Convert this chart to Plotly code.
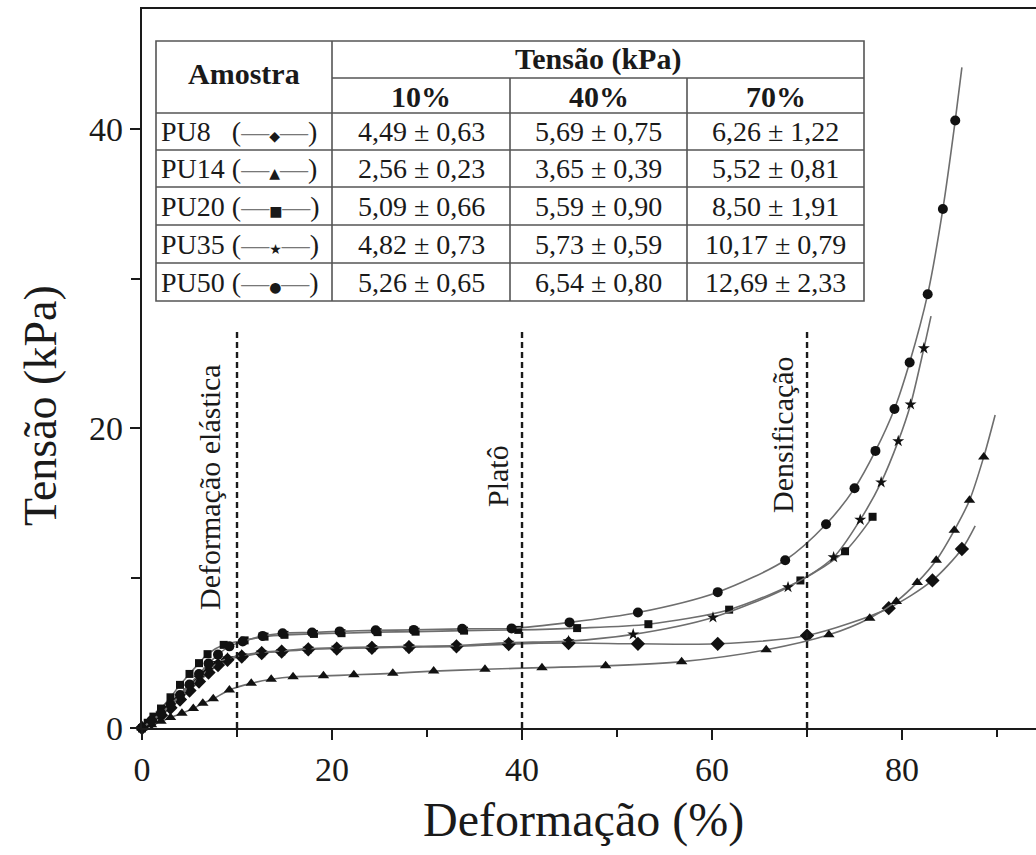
import plotly.graph_objects as go

# ---------------- data ----------------
pu8_x = [0, 1.0, 2.0, 3.0, 4.0, 5.0, 6.0, 7.0, 8.0, 9.0, 10.5, 12.6, 14.7, 17.5, 20.5, 24.2, 28.1, 33.1, 38.6, 44.9, 52.2, 60.6, 70.0, 78.6, 83.2, 86.3]
pu8_y = [0, 0.4, 0.85, 1.35, 1.9, 2.5, 3.1, 3.7, 4.2, 4.55, 4.77, 5.0, 5.1, 5.25, 5.3, 5.35, 5.4, 5.45, 5.6, 5.67, 5.62, 5.62, 6.17, 8.0, 9.85, 11.95]
pu8_end = (87.7, 13.5)

pu14_x = [0, 1.0, 2.0, 3.0, 4.2, 5.4, 6.4, 7.5, 9.2, 11.5, 13.6, 15.9, 19.1, 22.3, 26.4, 30.7, 36.1, 42.1, 48.8, 56.8, 65.7, 72.3, 76.6, 79.4, 81.6, 83.6, 85.5, 87.1, 88.6]
pu14_y = [0, 0.22, 0.45, 0.7, 0.98, 1.3, 1.65, 1.95, 2.54, 2.98, 3.25, 3.42, 3.48, 3.55, 3.65, 3.8, 3.92, 4.03, 4.15, 4.43, 5.22, 6.22, 7.33, 8.45, 9.72, 11.2, 13.2, 15.2, 18.1]
pu14_end = (89.8, 20.9)

pu20_x = [0, 0.6, 1.2, 2.0, 3.0, 4.0, 5.0, 6.0, 6.9, 8.6, 10.8, 12.9, 15.0, 18.1, 21.0, 24.8, 28.8, 33.9, 39.6, 45.8, 53.3, 61.8, 69.3, 74.0, 76.9]
pu20_y = [0, 0.35, 0.76, 1.3, 2.05, 2.88, 3.61, 4.33, 4.93, 5.55, 5.85, 6.1, 6.22, 6.28, 6.33, 6.4, 6.43, 6.5, 6.55, 6.67, 6.93, 7.9, 9.85, 11.8, 14.1]
pu20_end = (77.0, 14.2)

pu35_x = [0, 1.0, 2.0, 3.0, 4.0, 5.0, 6.0, 7.0, 8.0, 9.0, 10.5, 12.6, 14.7, 17.5, 20.5, 24.2, 28.1, 33.1, 38.6, 44.9, 51.7, 60.1, 68.0, 72.8, 75.6, 77.8, 79.6, 80.9, 82.3]
pu35_y = [0, 0.45, 0.95, 1.5, 2.1, 2.75, 3.35, 3.9, 4.35, 4.65, 4.85, 5.05, 5.15, 5.3, 5.36, 5.4, 5.45, 5.5, 5.7, 5.8, 6.25, 7.38, 9.4, 11.4, 13.9, 16.4, 19.15, 21.6, 25.35]
pu35_end = (83.05, 27.5)

pu50_x = [0, 1.0, 2.0, 3.0, 4.0, 5.0, 6.0, 7.0, 8.0, 9.2, 10.6, 12.7, 14.8, 17.9, 20.8, 24.6, 28.6, 33.7, 38.9, 45.0, 52.2, 60.6, 67.7, 72.0, 75.0, 77.2, 79.2, 80.8, 82.7, 84.3, 85.6]
pu50_y = [0, 0.5, 1.0, 1.55, 2.2, 2.9, 3.6, 4.3, 4.9, 5.45, 5.77, 6.15, 6.33, 6.38, 6.45, 6.52, 6.55, 6.62, 6.65, 7.05, 7.71, 9.07, 11.2, 13.6, 16.0, 18.5, 21.3, 24.4, 28.96, 34.65, 40.56]
pu50_end = (86.3, 44.1)

samples = ["PU8", "PU14", "PU20", "PU35", "PU50"]
glyphs = ["◆", "▲", "■", "★", "●"]
t10 = ["4,49 ± 0,63", "2,56 ± 0,23", "5,09 ± 0,66", "4,82 ± 0,73", "5,26 ± 0,65"]
t40 = ["5,69 ± 0,75", "3,65 ± 0,39", "5,59 ± 0,90", "5,73 ± 0,59", "6,54 ± 0,80"]
t70 = ["6,26 ± 1,22", "5,52 ± 0,81", "8,50 ± 1,91", "10,17 ± 0,79", "12,69 ± 2,33"]
col_heads = ["10%", "40%", "70%"]

regions = [10, 40, 70]
region_labels = ["Deformação elástica", "Platô", "Densificação"]
region_top = 26.5

x_ticks = [0, 20, 40, 60, 80]
x_minor = [10, 30, 50, 70, 90]
y_ticks = [0, 20, 40]
y_minor = [10, 30]

# ---------------- figure ----------------
W, H = 1036, 855
L, R, T, B = 142, 0, 9, 127
PW, PH = W - L - R, H - T - B


def pxx(x):
    return (x - L) / PW


def pxy(y):
    return (H - B - y) / PH


SERIF = "Liberation Serif, Times New Roman, serif"
INK = "#1a1a1a"

fig = go.Figure()

series = [
    (pu8_x, pu8_y, pu8_end, "diamond", 11),
    (pu14_x, pu14_y, pu14_end, "triangle-up", 10),
    (pu20_x, pu20_y, pu20_end, "square", 8),
    (pu35_x, pu35_y, pu35_end, "star", 9),
    (pu50_x, pu50_y, pu50_end, "circle", 10),
]

for (xs, ys, end, sym, sz), name in zip(series, samples):
    fig.add_trace(go.Scatter(
        x=xs + [end[0]], y=ys + [end[1]], mode="lines",
        line=dict(color="#6e6e6e", width=1.6, shape="spline", smoothing=0.8),
        showlegend=False, cliponaxis=False, hoverinfo="skip"))
    fig.add_trace(go.Scatter(
        x=xs, y=ys, mode="markers", name=name,
        marker=dict(symbol=sym, size=sz, color="#111111", line=dict(width=0)),
        showlegend=False, cliponaxis=False))

# dashed region lines and their labels
label_pos = [(210, 487), (497, 476), (783, 435)]
for xv, lab, (lx, ly) in zip(regions, region_labels, label_pos):
    fig.add_shape(type="line", xref="x", yref="y", x0=xv, x1=xv, y0=0, y1=region_top,
                  line=dict(color=INK, width=2.4, dash="6px,4px"))
    fig.add_annotation(text=lab, xref="paper", yref="paper", x=pxx(lx), y=pxy(ly),
                       textangle=-90, showarrow=False, xanchor="center", yanchor="middle",
                       font=dict(family=SERIF, size=30, color=INK))

# ---------------- table (inset) ----------------
cx = [156, 332, 510, 687, 864]
ry = [41, 78, 113, 150, 187, 225, 263, 301]
TC = "#555555"
TW = 1.6


def hline(x0, x1, y):
    fig.add_shape(type="line", xref="paper", yref="paper", x0=pxx(x0), x1=pxx(x1),
                  y0=pxy(y), y1=pxy(y), line=dict(color=TC, width=TW))


def vline(x, y0, y1):
    fig.add_shape(type="line", xref="paper", yref="paper", x0=pxx(x), x1=pxx(x),
                  y0=pxy(y0), y1=pxy(y1), line=dict(color=TC, width=TW))


fig.add_shape(type="rect", xref="paper", yref="paper", x0=pxx(cx[0]), x1=pxx(cx[-1]),
              y0=pxy(ry[-1]), y1=pxy(ry[0]), line=dict(color=TC, width=TW), fillcolor="white",
              layer="above")
hline(cx[1], cx[-1], ry[1])
for yy in ry[2:-1]:
    hline(cx[0], cx[-1], yy)
vline(cx[1], ry[0], ry[-1])
for xx in cx[2:-1]:
    vline(xx, ry[1], ry[-1])


def cell(text, x, y, size=28, bold=False, anchor="center"):
    fig.add_annotation(text=("<b>%s</b>" % text) if bold else text, xref="paper", yref="paper",
                       x=pxx(x), y=pxy(y), showarrow=False, xanchor=anchor, yanchor="middle",
                       font=dict(family=SERIF, size=size, color=INK))


cell("Amostra", (cx[0] + cx[1]) / 2, (ry[0] + ry[2]) / 2 - 3, size=30, bold=True)
cell("Tensão (kPa)", (cx[1] + cx[-1]) / 2, (ry[0] + ry[1]) / 2 - 1, size=30, bold=True)
for i, h in enumerate(col_heads):
    cell(h, (cx[i + 1] + cx[i + 2]) / 2, (ry[1] + ry[2]) / 2 + 1, size=30, bold=True)

for r, (s, g, a, b, c) in enumerate(zip(samples, glyphs, t10, t40, t70)):
    yc = (ry[r + 2] + ry[r + 3]) / 2
    pad = "&nbsp;&nbsp;" if len(s) == 3 else ""
    legend = ("%s%s (<span style='color:#777'>—</span>"
              "<span style='font-family:DejaVu Sans;font-size:14px'>%s</span>"
              "<span style='color:#777'>—</span>)") % (s, pad, g)
    cell(legend, cx[0] + 3, yc, anchor="left")
    cell(a, (cx[1] + cx[2]) / 2, yc)
    cell(b, (cx[2] + cx[3]) / 2, yc)
    cell(c, (cx[3] + cx[4]) / 2, yc)

# axis titles
fig.add_annotation(text="Tensão (kPa)", xref="paper", yref="paper", x=pxx(40), y=pxy(406),
                   textangle=-90, showarrow=False, xanchor="center", yanchor="middle",
                   font=dict(family=SERIF, size=46, color=INK))
fig.add_annotation(text="Deformação (%)", xref="paper", yref="paper", x=pxx(583), y=pxy(820),
                   showarrow=False, xanchor="center", yanchor="middle",
                   font=dict(family=SERIF, size=48, color=INK))

axis_common = dict(showline=True, linecolor=INK, linewidth=2.2, ticks="outside",
                   tickcolor=INK, tickwidth=2, ticklen=10, showgrid=False, zeroline=False,
                   tickfont=dict(family=SERIF, size=34, color=INK))

fig.update_xaxes(range=[0, 94.1], tickvals=x_ticks, mirror=True,
                 minor=dict(tickvals=x_minor, ticks="outside", ticklen=7, tickwidth=2,
                            tickcolor=INK),
                 **axis_common)
fig.update_yaxes(range=[0, 48], tickvals=y_ticks,
                 minor=dict(tickvals=y_minor, ticks="outside", ticklen=9, tickwidth=2,
                            tickcolor=INK),
                 **axis_common)

fig.update_layout(width=W, height=H, margin=dict(l=L, r=R, t=T, b=B),
                  paper_bgcolor="white", plot_bgcolor="white", showlegend=False)

fig.write_html("out.html")
